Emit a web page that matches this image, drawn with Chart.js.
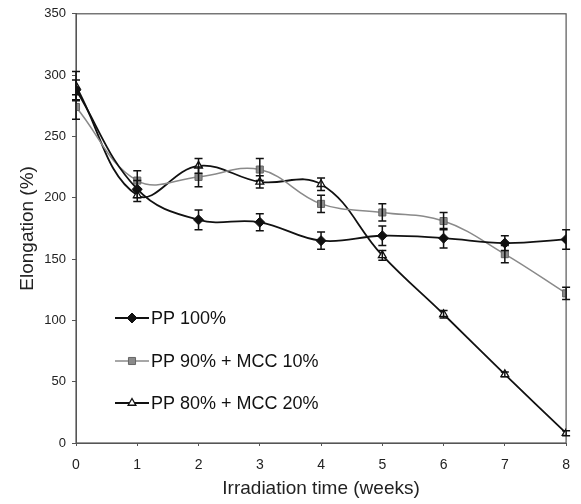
<!DOCTYPE html>
<html><head><meta charset="utf-8">
<script src="https://cdn.jsdelivr.net/npm/chart.js@4"></script>
<style>html,body{margin:0;padding:0;background:#fff}#wrap{width:581px;height:504px}</style>
</head><body><div id="wrap"><canvas id="c"></canvas></div>
<script>
const weeks = [0,1,2,3,4,5,6,7,8];
const pp100 = [288,207,182,180,165,169,167,163,166];
const pp100Err = [8,7,8,7,7,8,8,6,8];
const pp90 = [274,214,217,223,195,188,181,154,122];
const pp90Err = [10,8,8,9,7,7,7,7,5];
const pp80 = [291,202,226,213,211,153,105,56,8];
const pp80Err = [12,5,6,5,5,4,3,2,2];
const yTicks = [0,50,100,150,200,250,300,350];
const seriesNames = ['PP 100%','PP 90% + MCC 10%','PP 80% + MCC 20%'];

const FONT = '"Liberation Sans", Arial, sans-serif';

const errPlugin = {
  id:'err',
  afterDatasetsDraw(chart){
    const ctx = chart.ctx, y = chart.scales.y;
    chart.data.datasets.forEach((ds,i)=>{
      const meta = chart.getDatasetMeta(i);
      ctx.save();
      ctx.strokeStyle = '#111'; ctx.lineWidth = 1.5;
      meta.data.forEach((pt,j)=>{
        const e = ds.err[j], v = ds.data[j];
        const y1 = y.getPixelForValue(v+e), y2 = y.getPixelForValue(v-e);
        ctx.beginPath();
        ctx.moveTo(pt.x,y1); ctx.lineTo(pt.x,y2);
        ctx.moveTo(pt.x-4,y1); ctx.lineTo(pt.x+4,y1);
        ctx.moveTo(pt.x-4,y2); ctx.lineTo(pt.x+4,y2);
        ctx.stroke();
      });
      ctx.restore();
    });
  }
};
const framePlugin = {
  id:'frame',
  beforeDatasetsDraw(chart){
    const {ctx, chartArea:a} = chart;
    ctx.save(); ctx.strokeStyle='#555'; ctx.lineWidth=1.2;
    ctx.strokeRect(a.left,a.top,a.right-a.left,a.bottom-a.top);
    ctx.restore();
  }
};
const legendPlugin = {
  id:'leg',
  afterDraw(chart){
    const ctx = chart.ctx;
    const rows = [318,361,403];
    chart.data.datasets.forEach((ds,i)=>{
      const yy = rows[i];
      ctx.save();
      ctx.strokeStyle = ds.borderColor; ctx.lineWidth = ds.borderWidth;
      ctx.beginPath(); ctx.moveTo(115,yy); ctx.lineTo(149,yy); ctx.stroke();
      ctx.fillStyle = ds.pointBackgroundColor; ctx.strokeStyle = ds.pointBorderColor; ctx.lineWidth = ds.pointBorderWidth;
      Chart.helpers.drawPoint(ctx,{pointStyle:ds.pointStyle,radius:ds.pointRadius,borderWidth:ds.pointBorderWidth,rotation:0},132,yy);
      ctx.fillStyle = '#111';
      ctx.font = '18px '+FONT;
      ctx.textBaseline='middle';
      ctx.fillText(ds.label,151,yy+1);
      ctx.restore();
    });
  }
};

new Chart(document.getElementById('c'),{
  type:'line',
  data:{
    labels: weeks,
    datasets:[
      {label:seriesNames[0],data:pp100,err:pp100Err,borderColor:'#111',borderWidth:1.8,tension:0.4,
       pointStyle:'rectRot',pointRadius:5,pointBackgroundColor:'#111',pointBorderColor:'#111',pointBorderWidth:1},
      {label:seriesNames[1],data:pp90,err:pp90Err,borderColor:'#8a8a8a',borderWidth:1.5,tension:0.4,
       pointStyle:'rect',pointRadius:5,pointBackgroundColor:'#8a8a8a',pointBorderColor:'#666',pointBorderWidth:1},
      {label:seriesNames[2],data:pp80,err:pp80Err,borderColor:'#111',borderWidth:1.8,tension:0.4,
       pointStyle:'triangle',pointRadius:4.5,pointBackgroundColor:'#fff',pointBorderColor:'#111',pointBorderWidth:1.3}
    ]
  },
  options:{
    responsive:true, maintainAspectRatio:false, animation:false,
    layout:{padding:{top:10,right:14,left:12,bottom:0}},
    plugins:{legend:{display:false},tooltip:{enabled:false}},
    scales:{
      x:{type:'linear',min:0,max:8,
        ticks:{stepSize:1,color:'#222',font:{family:FONT,size:14},padding:11},
        grid:{drawOnChartArea:false,drawTicks:true,tickLength:3,color:'#555'},
        border:{color:'#555'},
        title:{display:true,text:'Irradiation time (weeks)',color:'#222',font:{family:FONT,size:19},padding:{top:3}},
        afterFit(s){s.height=61;}
      },
      y:{min:0,max:350,
        afterBuildTicks(s){s.ticks = yTicks.map(v=>({value:v}));},
        ticks:{color:'#222',font:{family:FONT,size:13},padding:6},
        grid:{drawOnChartArea:false,drawTicks:true,tickLength:4,color:'#555'},
        border:{color:'#555'},
        title:{display:true,text:'Elongation (%)',color:'#222',font:{family:FONT,size:19}},
        afterFit(s){s.width=64;}
      }
    }
  },
  plugins:[framePlugin,errPlugin,legendPlugin]
});
</script></body></html>
